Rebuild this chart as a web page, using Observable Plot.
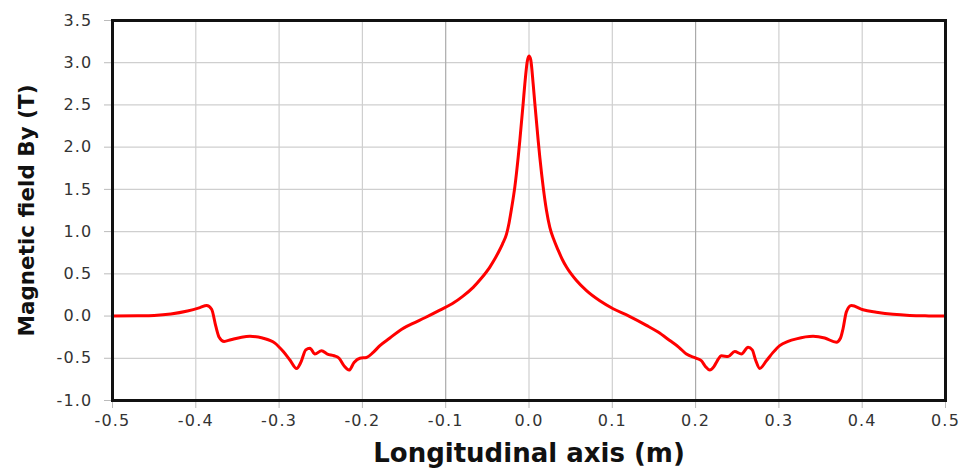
<!DOCTYPE html>
<html>
<head>
<meta charset="utf-8">
<script src="https://cdn.jsdelivr.net/npm/d3@7"></script>
<script src="https://cdn.jsdelivr.net/npm/@observablehq/plot@0.6"></script>
<style>
  html, body { margin: 0; padding: 0; background: #fff; }
  svg g[aria-label$="tick label"] text { font-size: 16px !important; letter-spacing: 1.2px !important; }
</style>
</head>
<body>
<div id="chart"></div>
<script>
const positions = [-0.5,-0.47,-0.45,-0.43,-0.41,-0.395,-0.387,-0.381,-0.376,-0.372,-0.366,-0.358,-0.345,-0.335,-0.32,-0.305,-0.295,-0.287,-0.279,-0.274,-0.268,-0.263,-0.257,-0.249,-0.242,-0.234,-0.228,-0.222,-0.216,-0.21,-0.203,-0.195,-0.187,-0.179,-0.167,-0.155,-0.14,-0.125,-0.107,-0.09,-0.08,-0.067,-0.057,-0.047,-0.042,-0.037,-0.032,-0.027,-0.024,-0.021,-0.017,-0.013,-0.011,-0.007,-0.005,-0.002,0.0,0.002,0.005,0.007,0.011,0.013,0.017,0.021,0.025,0.030,0.035,0.040,0.045,0.057,0.069,0.085,0.101,0.12,0.141,0.155,0.169,0.18,0.189,0.201,0.207,0.212,0.217,0.222,0.226,0.231,0.239,0.247,0.255,0.263,0.268,0.272,0.277,0.285,0.293,0.301,0.311,0.321,0.341,0.355,0.369,0.374,0.377,0.381,0.387,0.401,0.417,0.437,0.457,0.48,0.5];
const fieldBy = [0.0,0.003,0.008,0.025,0.06,0.10,0.125,0.08,-0.12,-0.25,-0.30,-0.28,-0.25,-0.24,-0.26,-0.32,-0.42,-0.52,-0.62,-0.55,-0.40,-0.38,-0.45,-0.41,-0.45,-0.47,-0.50,-0.59,-0.64,-0.55,-0.50,-0.49,-0.43,-0.35,-0.26,-0.17,-0.09,-0.02,0.07,0.16,0.23,0.34,0.45,0.58,0.66,0.75,0.85,0.97,1.10,1.27,1.53,1.88,2.08,2.52,2.75,3.02,3.08,3.04,2.75,2.52,2.08,1.88,1.53,1.25,1.05,0.90,0.78,0.67,0.58,0.42,0.30,0.18,0.086,0.0,-0.11,-0.19,-0.29,-0.37,-0.45,-0.50,-0.53,-0.60,-0.64,-0.60,-0.53,-0.47,-0.48,-0.42,-0.45,-0.37,-0.40,-0.52,-0.62,-0.53,-0.43,-0.35,-0.30,-0.27,-0.24,-0.26,-0.31,-0.26,-0.15,0.05,0.125,0.075,0.046,0.02,0.007,0.002,0.0];
const xTicks = [-0.5,-0.4,-0.3,-0.2,-0.1,0.0,0.1,0.2,0.3,0.4,0.5];
const yTicks = [-1.0,-0.5,0.0,0.5,1.0,1.5,2.0,2.5,3.0,3.5];
const xTitle = "Longitudinal axis (m)";
const yTitle = "Magnetic field By (T)";

const data = positions.map((x, i) => ({x, y: fieldBy[i]}));
const darkGrid = [-0.1, 0.2];
const lightGrid = xTicks.filter(t => !darkGrid.includes(t));
const fmt = d => d.toFixed(1);

const chart = Plot.plot({
  width: 963,
  height: 468,
  marginLeft: 112,
  marginRight: 18,
  marginTop: 20,
  marginBottom: 68,
  style: {fontFamily: "DejaVu Sans", fontSize: "16px", color: "#333", background: "#fff"},
  x: {domain: [-0.5, 0.5]},
  y: {domain: [-1.0, 3.5]},
  marks: [
    Plot.gridY(yTicks, {stroke: "#cfcfcf", strokeOpacity: 1, strokeWidth: 1.2}),
    Plot.gridX(lightGrid, {stroke: "#cfcfcf", strokeOpacity: 1, strokeWidth: 1.2}),
    Plot.gridX(darkGrid, {stroke: "#aaaaaa", strokeOpacity: 1, strokeWidth: 1.2}),
    Plot.axisX(xTicks, {tickSize: 8, tickPadding: 6, stroke: "#bbb", tickFormat: fmt, label: null, fill: "#333"}),
    Plot.axisY(yTicks, {tickSize: 8, tickPadding: 12, stroke: "#bbb", tickFormat: fmt, label: null, fill: "#333"}),
    Plot.line(data, {x: "x", y: "y", stroke: "#ff0000", strokeWidth: 3, curve: "monotone-x"}),
    Plot.frame({stroke: "#111", strokeWidth: 3}),
    Plot.text([xTitle], {text: d => d, frameAnchor: "bottom", dy: 53, lineAnchor: "middle", textAnchor: "middle", fontSize: 26, fontWeight: "bold", fontFamily: "DejaVu Sans", fill: "#111"}),
    Plot.text([yTitle], {text: d => d, frameAnchor: "left", dx: -85, rotate: -90, lineAnchor: "middle", textAnchor: "middle", fontSize: 21.5, fontWeight: "bold", fontFamily: "DejaVu Sans", fill: "#111"})
  ]
});
document.getElementById("chart").appendChild(chart);
</script>
</body>
</html>
